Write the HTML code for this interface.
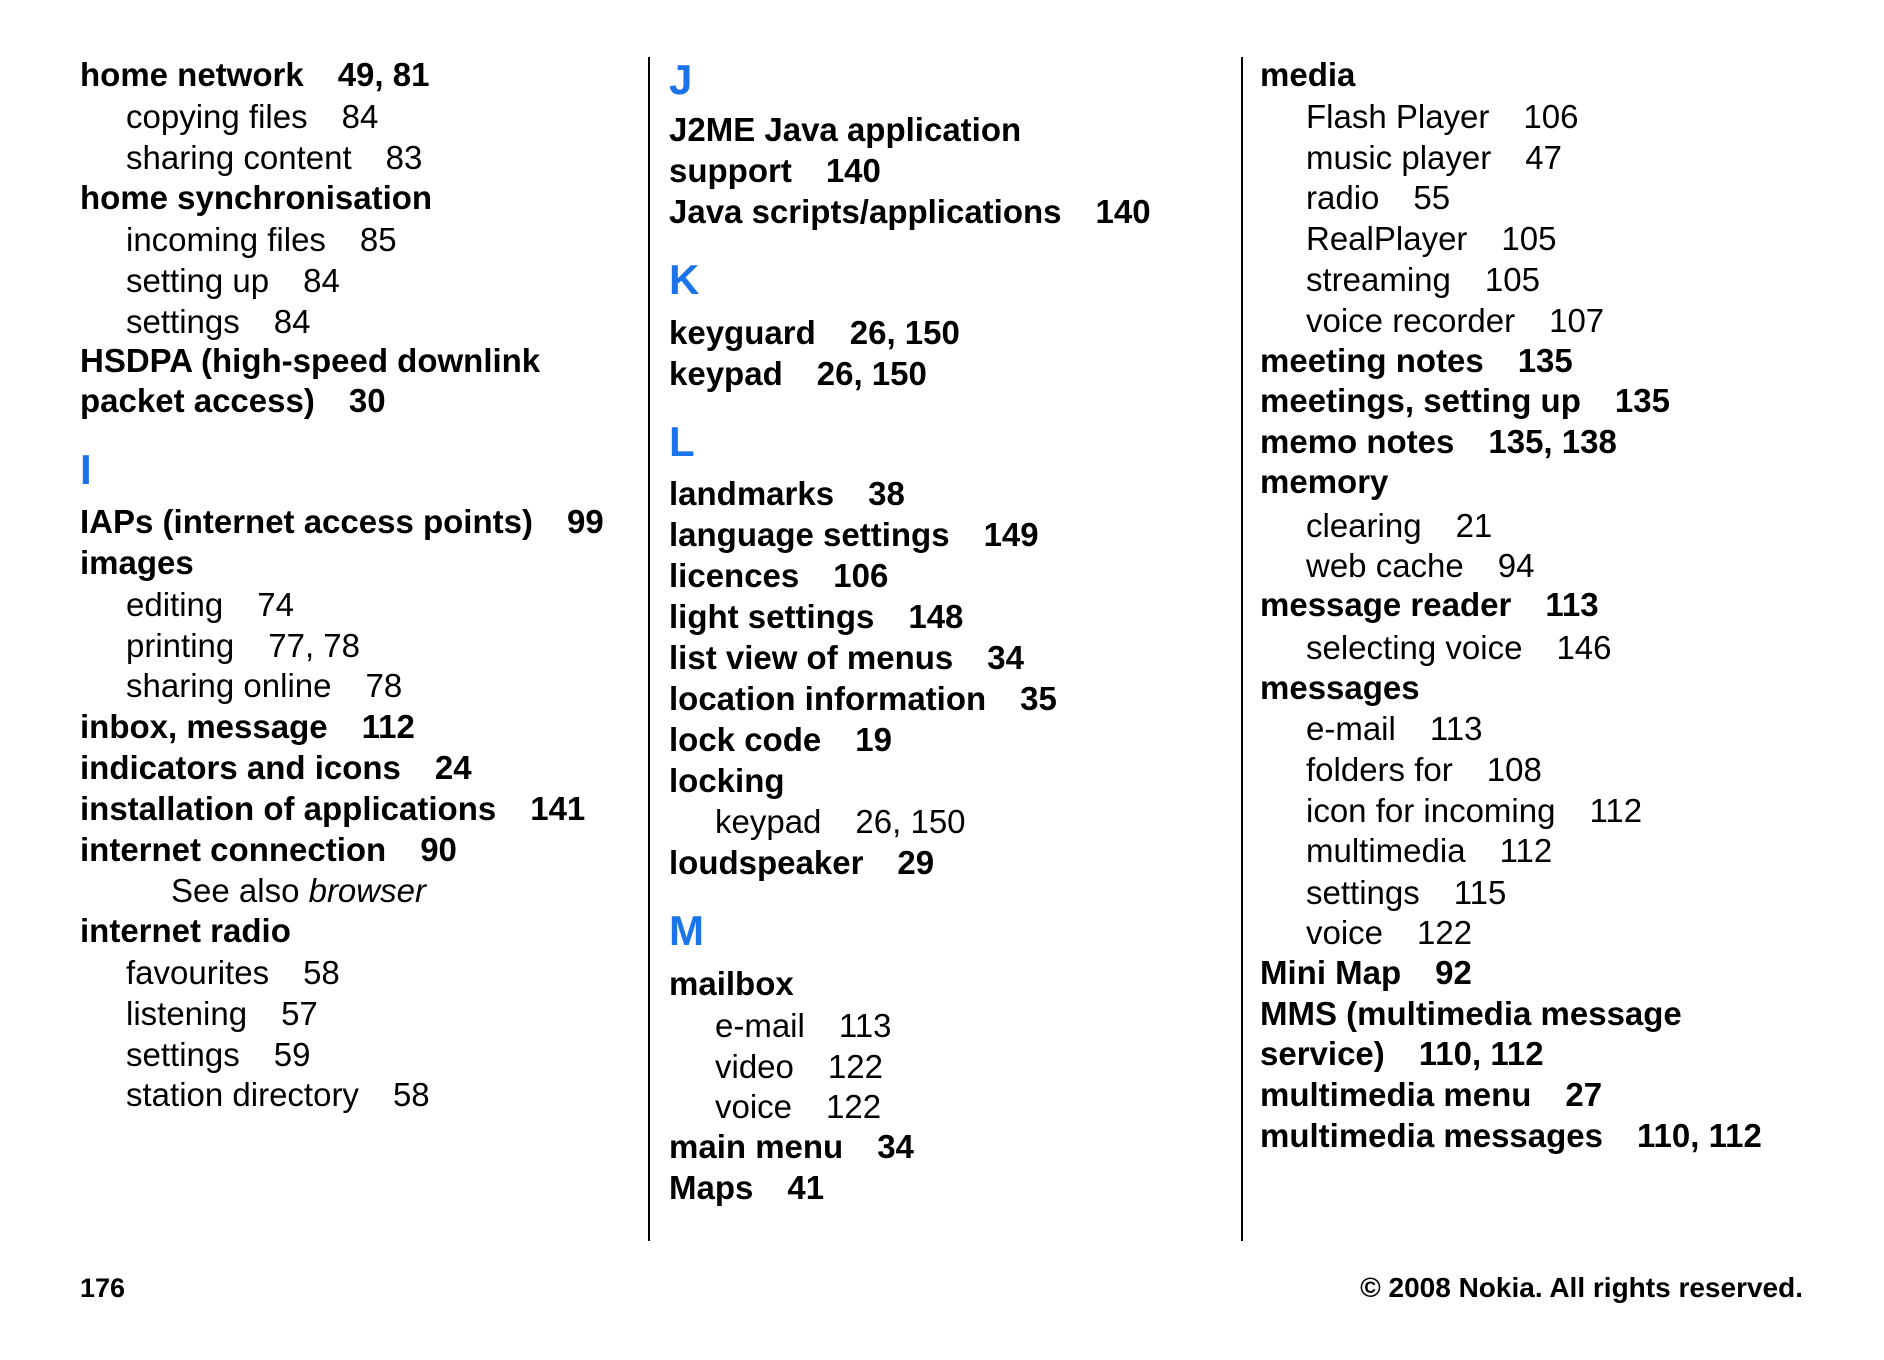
<!DOCTYPE html>
<html><head><meta charset="utf-8"><style>
html,body{margin:0;padding:0;background:#fff;}
body{width:1884px;height:1360px;position:relative;overflow:hidden;font-family:"Liberation Sans",sans-serif;color:#000;}
.r{position:absolute;line-height:40px;white-space:nowrap;font-size:33px;}
.b{font-weight:bold;}
.n{margin-left:34px;}
.L{color:#1a73e8;font-weight:bold;font-size:42px;}
.v{position:absolute;width:2px;background:#000;top:57px;height:1184px;}
</style></head><body>
<div class="v" style="left:648px"></div>
<div class="v" style="left:1241px"></div>

<!-- column 1 -->
<div class="r b" style="left:80px;top:55px">home network<span class="n">49, 81</span></div>
<div class="r" style="left:126px;top:97px">copying files<span class="n">84</span></div>
<div class="r" style="left:126px;top:138px">sharing content<span class="n">83</span></div>
<div class="r b" style="left:80px;top:178px">home synchronisation</div>
<div class="r" style="left:126px;top:220px">incoming files<span class="n">85</span></div>
<div class="r" style="left:126px;top:261px">setting up<span class="n">84</span></div>
<div class="r" style="left:126px;top:302px">settings<span class="n">84</span></div>
<div class="r b" style="left:80px;top:341px">HSDPA (high-speed downlink</div>
<div class="r b" style="left:80px;top:381px">packet access)<span class="n">30</span></div>
<div class="r L" style="left:80px;top:450px">I</div>
<div class="r b" style="left:80px;top:502px">IAPs (internet access points)<span class="n">99</span></div>
<div class="r b" style="left:80px;top:543px">images</div>
<div class="r" style="left:126px;top:585px">editing<span class="n">74</span></div>
<div class="r" style="left:126px;top:626px">printing<span class="n">77, 78</span></div>
<div class="r" style="left:126px;top:666px">sharing online<span class="n">78</span></div>
<div class="r b" style="left:80px;top:707px">inbox, message<span class="n">112</span></div>
<div class="r b" style="left:80px;top:748px">indicators and icons<span class="n">24</span></div>
<div class="r b" style="left:80px;top:789px">installation of applications<span class="n">141</span></div>
<div class="r b" style="left:80px;top:830px">internet connection<span class="n">90</span></div>
<div class="r" style="left:171px;top:871px">See also <i>browser</i></div>
<div class="r b" style="left:80px;top:911px">internet radio</div>
<div class="r" style="left:126px;top:953px">favourites<span class="n">58</span></div>
<div class="r" style="left:126px;top:994px">listening<span class="n">57</span></div>
<div class="r" style="left:126px;top:1035px">settings<span class="n">59</span></div>
<div class="r" style="left:126px;top:1075px">station directory<span class="n">58</span></div>

<!-- column 2 -->
<div class="r L" style="left:669px;top:60px">J</div>
<div class="r b" style="left:669px;top:110px">J2ME Java application</div>
<div class="r b" style="left:669px;top:151px">support<span class="n">140</span></div>
<div class="r b" style="left:669px;top:192px">Java scripts/applications<span class="n">140</span></div>
<div class="r L" style="left:669px;top:260px">K</div>
<div class="r b" style="left:669px;top:313px">keyguard<span class="n">26, 150</span></div>
<div class="r b" style="left:669px;top:354px">keypad<span class="n">26, 150</span></div>
<div class="r L" style="left:669px;top:422px">L</div>
<div class="r b" style="left:669px;top:474px">landmarks<span class="n">38</span></div>
<div class="r b" style="left:669px;top:515px">language settings<span class="n">149</span></div>
<div class="r b" style="left:669px;top:556px">licences<span class="n">106</span></div>
<div class="r b" style="left:669px;top:597px">light settings<span class="n">148</span></div>
<div class="r b" style="left:669px;top:638px">list view of menus<span class="n">34</span></div>
<div class="r b" style="left:669px;top:679px">location information<span class="n">35</span></div>
<div class="r b" style="left:669px;top:720px">lock code<span class="n">19</span></div>
<div class="r b" style="left:669px;top:761px">locking</div>
<div class="r" style="left:715px;top:802px">keypad<span class="n">26, 150</span></div>
<div class="r b" style="left:669px;top:843px">loudspeaker<span class="n">29</span></div>
<div class="r L" style="left:669px;top:911px">M</div>
<div class="r b" style="left:669px;top:964px">mailbox</div>
<div class="r" style="left:715px;top:1006px">e-mail<span class="n">113</span></div>
<div class="r" style="left:715px;top:1047px">video<span class="n">122</span></div>
<div class="r" style="left:715px;top:1087px">voice<span class="n">122</span></div>
<div class="r b" style="left:669px;top:1127px">main menu<span class="n">34</span></div>
<div class="r b" style="left:669px;top:1168px">Maps<span class="n">41</span></div>

<!-- column 3 -->
<div class="r b" style="left:1260px;top:55px">media</div>
<div class="r" style="left:1306px;top:97px">Flash Player<span class="n">106</span></div>
<div class="r" style="left:1306px;top:138px">music player<span class="n">47</span></div>
<div class="r" style="left:1306px;top:178px">radio<span class="n">55</span></div>
<div class="r" style="left:1306px;top:219px">RealPlayer<span class="n">105</span></div>
<div class="r" style="left:1306px;top:260px">streaming<span class="n">105</span></div>
<div class="r" style="left:1306px;top:301px">voice recorder<span class="n">107</span></div>
<div class="r b" style="left:1260px;top:341px">meeting notes<span class="n">135</span></div>
<div class="r b" style="left:1260px;top:381px">meetings, setting up<span class="n">135</span></div>
<div class="r b" style="left:1260px;top:422px">memo notes<span class="n">135, 138</span></div>
<div class="r b" style="left:1260px;top:462px">memory</div>
<div class="r" style="left:1306px;top:506px">clearing<span class="n">21</span></div>
<div class="r" style="left:1306px;top:546px">web cache<span class="n">94</span></div>
<div class="r b" style="left:1260px;top:585px">message reader<span class="n">113</span></div>
<div class="r" style="left:1306px;top:628px">selecting voice<span class="n">146</span></div>
<div class="r b" style="left:1260px;top:668px">messages</div>
<div class="r" style="left:1306px;top:709px">e-mail<span class="n">113</span></div>
<div class="r" style="left:1306px;top:750px">folders for<span class="n">108</span></div>
<div class="r" style="left:1306px;top:791px">icon for incoming<span class="n">112</span></div>
<div class="r" style="left:1306px;top:831px">multimedia<span class="n">112</span></div>
<div class="r" style="left:1306px;top:873px">settings<span class="n">115</span></div>
<div class="r" style="left:1306px;top:913px">voice<span class="n">122</span></div>
<div class="r b" style="left:1260px;top:953px">Mini Map<span class="n">92</span></div>
<div class="r b" style="left:1260px;top:994px">MMS (multimedia message</div>
<div class="r b" style="left:1260px;top:1034px">service)<span class="n">110, 112</span></div>
<div class="r b" style="left:1260px;top:1075px">multimedia menu<span class="n">27</span></div>
<div class="r b" style="left:1260px;top:1116px">multimedia messages<span class="n">110, 112</span></div>

<div class="r b" style="left:80px;top:1268px;font-size:27px">176</div>
<div class="r b" style="right:81px;top:1268px;font-size:28px">© 2008 Nokia. All rights reserved.</div>
</body></html>
